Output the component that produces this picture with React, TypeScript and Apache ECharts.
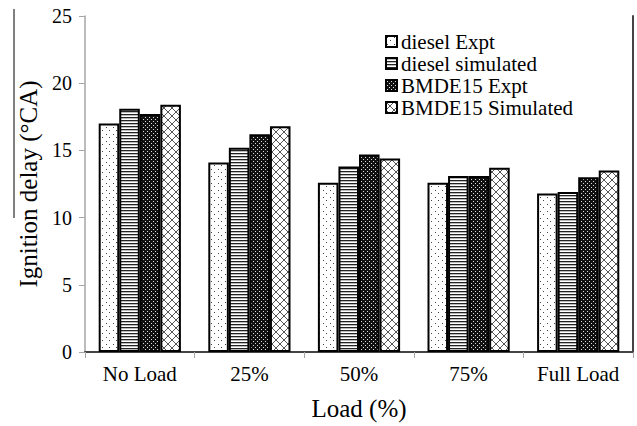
import React, { useEffect, useRef } from "react";
import * as echarts from "echarts";

const categories = ["No Load", "25%", "50%", "75%", "Full Load"];
const seriesNames = ["diesel Expt", "diesel simulated", "BMDE15 Expt", "BMDE15 Simulated"];
const dieselExpt = [17.0, 14.1, 12.6, 12.6, 11.8];
const dieselSim = [18.1, 15.2, 13.8, 13.1, 11.9];
const bmdeExpt = [17.7, 16.2, 14.7, 13.1, 13.0];
const bmdeSim = [18.4, 16.8, 14.4, 13.7, 13.5];
const yTicks = { min: 0, max: 25, interval: 5 };

const FONT = "'Liberation Serif', 'Times New Roman', serif";

function makeCanvas(w: number, h: number, bg: string, pixels: [number, number, string][]) {
  const c = document.createElement("canvas");
  c.width = w;
  c.height = h;
  const ctx = c.getContext("2d")!;
  ctx.fillStyle = bg;
  ctx.fillRect(0, 0, w, h);
  for (const [x, y, col] of pixels) {
    ctx.fillStyle = col;
    ctx.fillRect(x, y, 1, 1);
  }
  return c;
}

function patterns() {
  const dots = makeCanvas(7, 7, "#ffffff", [
    [1, 1, "#444"],
    [4, 4, "#444"],
  ]);
  const stripePx: [number, number, string][] = [];
  for (let x = 0; x < 4; x++) stripePx.push([x, 0, "#222"]);
  for (let x = 0; x < 4; x++) stripePx.push([x, 1, "#bbb"]);
  const stripes = makeCanvas(4, 3, "#ffffff", stripePx);
  const dense = makeCanvas(4, 4, "#111111", [
    [1, 1, "#ddd"],
    [3, 3, "#ddd"],
  ]);
  const hatchPx: [number, number, string][] = [];
  for (let i = 0; i < 8; i++) {
    hatchPx.push([i, i, "#555"]);
    hatchPx.push([7 - i, i, "#555"]);
  }
  const hatch = makeCanvas(8, 8, "#ffffff", hatchPx);
  return [dots, stripes, dense, hatch].map((img) => ({
    image: img,
    repeat: "repeat",
  }));
}

export default function App() {
  const ref = useRef<HTMLDivElement>(null);
  useEffect(() => {
    const chart = echarts.init(ref.current!, undefined, { renderer: "svg" });
    const pats = patterns();
    const dataSets = [dieselExpt, dieselSim, bmdeExpt, bmdeSim];
    const axisGray = "#a6a6a6";
    chart.setOption({
      animation: false,
      backgroundColor: "#ffffff",
      textStyle: { fontFamily: FONT, color: "#000" },
      grid: { left: 85, right: 4, top: 16, bottom: 68, containLabel: false },
      legend: {
        orient: "vertical",
        left: 385,
        top: 31,
        padding: 0,
        icon: "rect",
        itemWidth: 11,
        itemHeight: 11,
        itemGap: 1,
        textStyle: { fontFamily: FONT, fontSize: 21, color: "#000", padding: [0, 0, 0, -1] },
        data: seriesNames,
      },
      graphic: [
        {
          type: "line",
          shape: { x1: 14, y1: 9, x2: 14, y2: 218 },
          style: { stroke: "#000", lineWidth: 1 },
        },
      ],
      xAxis: [
        {
          type: "category",
          data: categories,
          axisLine: { lineStyle: { color: axisGray, width: 1.5 } },
          axisTick: { show: true, length: 6, lineStyle: { color: axisGray } },
          axisLabel: { fontFamily: FONT, fontSize: 21, color: "#000", margin: 11 },
          name: "Load (%)",
          nameLocation: "middle",
          nameGap: 44,
          nameTextStyle: { fontFamily: FONT, fontSize: 25, color: "#000" },
        },
        {
          type: "category",
          data: categories,
          position: "top",
          axisLine: { show: true, lineStyle: { color: "#444", width: 2 } },
          axisTick: { show: false },
          axisLabel: { show: false },
        },
      ],
      yAxis: [
        {
          type: "value",
          min: yTicks.min,
          max: yTicks.max,
          interval: yTicks.interval,
          axisLine: { show: true, lineStyle: { color: axisGray, width: 1.5 } },
          axisTick: { show: true, length: 6, lineStyle: { color: axisGray } },
          splitLine: { show: false },
          axisLabel: { fontFamily: FONT, fontSize: 20, color: "#000", margin: 13 },
          name: "Ignition delay (°CA)",
          nameLocation: "middle",
          nameGap: 44,
          nameTextStyle: { fontFamily: FONT, fontSize: 25, color: "#000" },
        },
        {
          type: "value",
          position: "right",
          min: yTicks.min,
          max: yTicks.max,
          interval: yTicks.interval,
          axisLine: { show: true, lineStyle: { color: "#444", width: 2 } },
          axisTick: { show: false },
          axisLabel: { show: false },
          splitLine: { show: false },
        },
      ],
      series: seriesNames.map((name, i) => ({
        name,
        type: "bar",
        data: dataSets[i],
        barGap: "0%",
        barCategoryGap: "25%",
        itemStyle: { color: pats[i], borderColor: "#000", borderWidth: 2 },
      })),
    });
    return () => chart.dispose();
  }, []);
  return (
    <div
      ref={ref}
      style={{ position: "absolute", left: 0, top: 0, width: 637, height: 426 }}
    />
  );
}
